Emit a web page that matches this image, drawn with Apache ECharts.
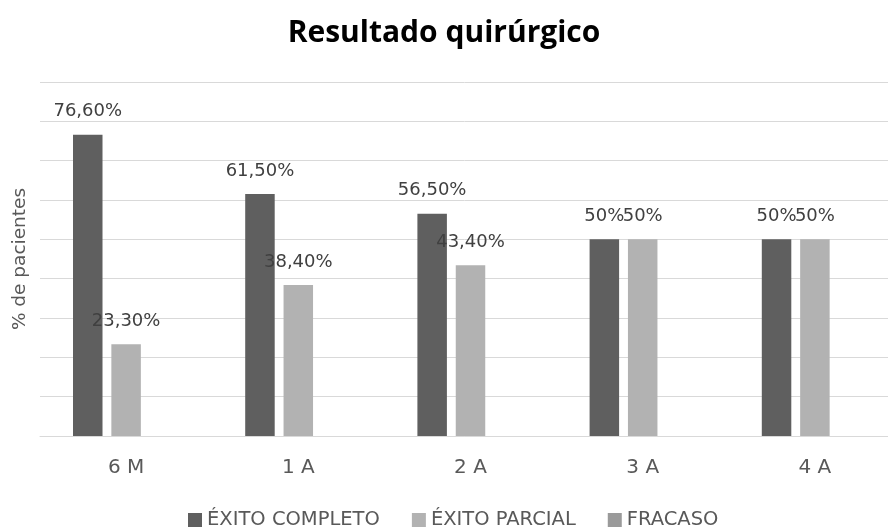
<!DOCTYPE html>
<html>
<head>
<meta charset="utf-8">
<script src="https://cdn.jsdelivr.net/npm/echarts@6/dist/echarts.min.js"></script>
<style>
  html, body { margin: 0; padding: 0; background: #fff; }
  #chart { width: 888px; height: 532px; }
</style>
</head>
<body>
<div id="chart"></div>
<script>
const categories = ["6 M", "1 A", "2 A", "3 A", "4 A"];
const exitoCompleto = [76.6, 61.5, 56.5, 50, 50];
const exitoParcial = [23.3, 38.4, 43.4, 50, 50];
const fracaso = [0, 0, 0, 0, 0];

// 76.6 -> "76,60%", 50 -> "50%"
function pct(v) {
  if (Number.isInteger(v)) return v + "%";
  return v.toFixed(2).replace(".", ",") + "%";
}

const chart = echarts.init(document.getElementById("chart"));

const valueLabel = {
  show: true,
  position: "top",
  distance: 14,
  color: "#404040",
  fontFamily: "DejaVu Sans",
  fontSize: 18,
  formatter: (p) => pct(p.value),
};

chart.setOption({
  animation: false,
  title: {
    text: "Resultado quirúrgico",
    left: "center",
    top: 13,
    textStyle: {
      fontFamily: "Open Sans",
      fontWeight: "bold",
      fontSize: 30,
      color: "#000",
    },
  },
  legend: {
    left: 183,
    top: 505,
    itemWidth: 14,
    itemHeight: 14,
    itemGap: 32,
    icon: "rect",
    textStyle: {
      fontFamily: "DejaVu Sans",
      fontSize: 19.5,
      color: "#595959",
    },
  },
  grid: {
    left: 40,
    top: 82,
    width: 861,
    bottom: 96,
    outerBoundsMode: "none",
  },
  xAxis: {
    type: "category",
    data: categories,
    axisLine: { lineStyle: { color: "#d9d9d9", width: 1 } },
    axisTick: { show: false },
    axisLabel: {
      margin: 22,
      color: "#595959",
      fontFamily: "DejaVu Sans",
      fontSize: 20,
    },
  },
  yAxis: {
    type: "value",
    min: 0,
    max: 90,
    interval: 10,
    name: "% de pacientes",
    nameLocation: "middle",
    nameGap: 10,
    nameTextStyle: {
      color: "#595959",
      fontFamily: "DejaVu Sans",
      fontSize: 18.5,
    },
    axisLine: { show: false },
    axisTick: { show: false },
    axisLabel: { show: false },
    splitLine: { lineStyle: { color: "#d9d9d9", width: 1 } },
  },
  series: [
    {
      name: "ÉXITO COMPLETO",
      type: "bar",
      data: exitoCompleto,
      barWidth: 29.5,
      barGap: "30%",
      itemStyle: { color: "#5f5f5f" },
      label: valueLabel,
    },
    {
      name: "ÉXITO PARCIAL",
      type: "bar",
      data: exitoParcial,
      barWidth: 29.5,
      itemStyle: { color: "#b2b2b2" },
      label: valueLabel,
    },
    {
      name: "FRACASO",
      type: "bar",
      data: fracaso,
      barWidth: 29.5,
      itemStyle: { color: "#9a9a9a" },
    },
  ],
});
</script>
</body>
</html>
